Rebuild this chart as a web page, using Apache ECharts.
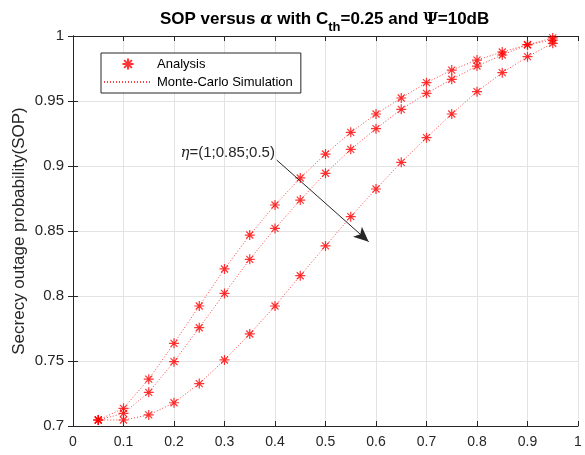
<!DOCTYPE html>
<html>
<head>
<meta charset="utf-8">
<script src="https://cdn.jsdelivr.net/npm/echarts@6/dist/echarts.min.js"></script>
<style>
  html, body { margin: 0; padding: 0; background: #fff; }
  #chart { width: 585px; height: 455px; }
</style>
</head>
<body>
<div id="chart"></div>
<script>
// Power-splitting ratio alpha
const alpha = [0.05, 0.1, 0.15, 0.2, 0.25, 0.3, 0.35, 0.4, 0.45, 0.5,
               0.55, 0.6, 0.65, 0.7, 0.75, 0.8, 0.85, 0.9, 0.95];

// SOP for eta = 1
const sopEta1 = [0.7046, 0.7136, 0.7360, 0.7636, 0.7923, 0.8208, 0.8469, 0.8700, 0.8908, 0.9092,
                 0.9259, 0.9400, 0.9523, 0.9641, 0.9738, 0.9815, 0.9877, 0.9933, 0.9985];
// SOP for eta = 0.85
const sopEta085 = [0.7046, 0.7097, 0.7259, 0.7495, 0.7756, 0.8020, 0.8282, 0.8520, 0.8738, 0.8944,
                   0.9128, 0.9287, 0.9436, 0.9559, 0.9667, 0.9769, 0.9854, 0.9933, 0.9969];
// SOP for eta = 0.5
const sopEta05 = [0.7046, 0.7046, 0.7085, 0.7179, 0.7326, 0.7508, 0.7708, 0.7923, 0.8156, 0.8385,
                  0.8610, 0.8823, 0.9028, 0.9218, 0.9400, 0.9572, 0.9718, 0.9841, 0.9944];

const xTicks = { min: 0, max: 1, step: 0.1 };
const yTicks = { min: 0.7, max: 1, step: 0.05 };

// Annotation: arrow showing increasing eta direction, and its label
const arrowFrom = [0.4034, 0.9046];
const arrowTo = [0.5855, 0.8418];
const noteAt = [0.3063, 0.91];

const RED = '#ff0000';
const INK = '#262626';
const FONT = '"Liberation Sans", Arial, Helvetica, sans-serif';
const SERIF = '"DejaVu Serif", "Liberation Serif", serif';
const STAR = 'path://M0,5H10M5,0V10M1.5,1.5L8.5,8.5M8.5,1.5L1.5,8.5';

const curves = [sopEta1, sopEta085, sopEta05];
const pairs = ys => alpha.map((a, i) => [a, ys[i]]);

const series = [];
curves.forEach((ys, k) => {
  series.push({
    name: 'Monte-Carlo Simulation',
    type: 'line',
    data: pairs(ys),
    symbol: 'none',
    lineStyle: { color: RED, width: 1, type: [1, 2], opacity: 0.75 },
    itemStyle: { color: RED },
    z: 2,
    markLine: k === 0 ? {
      silent: true,
      symbol: ['none', 'arrow'],
      symbolSize: [10, 15],
      lineStyle: { color: INK, width: 1, type: 'solid' },
      label: { show: false },
      data: [[{ coord: arrowFrom }, { coord: arrowTo }]]
    } : undefined,
    markPoint: k === 0 ? {
      silent: true,
      symbol: 'circle',
      symbolSize: 0,
      data: [{ coord: noteAt }],
      label: {
        show: true,
        position: 'inside',
        formatter: '{i|η}{t|=(1;0.85;0.5)}',
        rich: {
          i: { fontFamily: SERIF, fontStyle: 'italic', fontSize: 15, color: INK },
          t: { fontFamily: FONT, fontSize: 15, color: INK }
        }
      }
    } : undefined
  });
  series.push({
    name: 'Analysis',
    type: 'scatter',
    data: pairs(ys),
    symbol: STAR,
    symbolSize: 10,
    itemStyle: { color: RED, borderColor: RED, borderWidth: 1.2 },
    z: 3
  });
});

const chart = echarts.init(document.getElementById('chart'), null, { renderer: 'canvas' });
chart.setOption({
  backgroundColor: '#fff',
  animation: false,
  title: {
    left: 160,
    top: 5,
    padding: 0,
    text: '{b|SOP versus }{a|α}{b| with C}{s|th}{b|=0.25 and }{p|Ψ}{b|=10dB}',
    textStyle: {
      rich: {
        b: { fontFamily: FONT, fontWeight: 'bold', fontSize: 17, color: '#000' },
        a: { fontFamily: SERIF, fontStyle: 'italic', fontSize: 16, color: '#000' },
        p: { fontFamily: SERIF, fontSize: 16, color: '#000' },
        s: { fontFamily: FONT, fontWeight: 'bold', fontSize: 13, color: '#000', padding: [16, 0, 0, 0] }
      }
    }
  },
  legend: {
    orient: 'vertical',
    left: 101,
    top: 53,
    padding: [4, 8, 4, 2],
    itemWidth: 48,
    itemHeight: 11,
    itemGap: 4,
    backgroundColor: '#fff',
    borderColor: INK,
    borderWidth: 1,
    borderRadius: 0,
    data: [
      { name: 'Analysis' },
      { name: 'Monte-Carlo Simulation', itemStyle: { opacity: 0 } }
    ],
    textStyle: { fontFamily: FONT, fontSize: 13, color: '#000', lineHeight: 14 }
  },
  grid: { left: 73, right: 7, top: 36, bottom: 29, containLabel: false },
  xAxis: [{
    type: 'value',
    min: xTicks.min, max: xTicks.max, interval: xTicks.step,
    position: 'bottom',
    axisLine: { lineStyle: { color: INK, width: 1 } },
    axisTick: { inside: true, length: 5, lineStyle: { color: INK } },
    axisLabel: { fontFamily: FONT, fontSize: 14, color: INK, margin: 9 },
    splitLine: { show: true, lineStyle: { color: '#e3e3e3', width: 1 } }
  }, {
    type: 'value',
    min: xTicks.min, max: xTicks.max, interval: xTicks.step,
    position: 'top',
    axisLine: { show: true, lineStyle: { color: INK, width: 1 } },
    axisTick: { show: true, inside: true, length: 5, lineStyle: { color: INK } },
    axisLabel: { show: false },
    splitLine: { show: false }
  }],
  yAxis: [{
    type: 'value',
    min: yTicks.min, max: yTicks.max, interval: yTicks.step,
    position: 'left',
    name: 'Secrecy outage probability(SOP)',
    nameLocation: 'middle',
    nameGap: 45,
    nameMoveOverlap: false,
    nameRotate: 90,
    nameTextStyle: { fontFamily: FONT, fontSize: 17, color: INK },
    axisLine: { show: true, lineStyle: { color: INK, width: 1 } },
    axisTick: { show: true, inside: true, length: 5, lineStyle: { color: INK } },
    axisLabel: { fontFamily: FONT, fontSize: 15, color: INK, margin: 9 },
    splitLine: { show: true, lineStyle: { color: '#e3e3e3', width: 1 } }
  }, {
    type: 'value',
    min: yTicks.min, max: yTicks.max, interval: yTicks.step,
    position: 'right',
    axisLine: { show: true, lineStyle: { color: INK, width: 1 } },
    axisTick: { show: true, inside: true, length: 5, lineStyle: { color: INK } },
    axisLabel: { show: false },
    splitLine: { show: false }
  }],
  series: series
});
</script>
</body>
</html>
